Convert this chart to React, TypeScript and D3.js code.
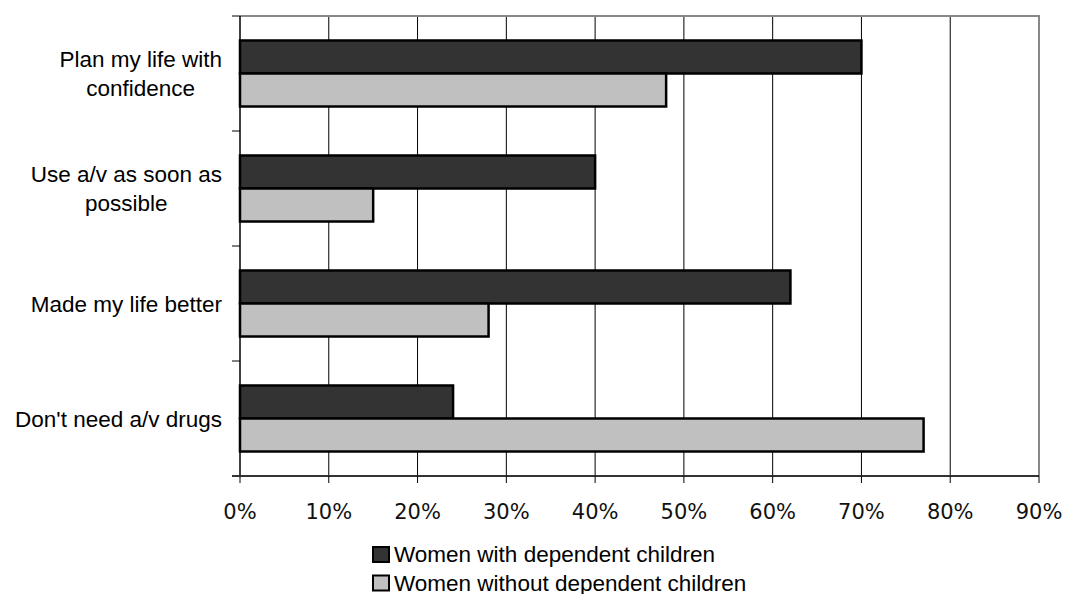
import React, { useEffect, useRef } from 'react';
import * as d3 from 'd3';

const categories = ['Plan my life with confidence', 'Use a/v as soon as possible', 'Made my life better', "Don't need a/v drugs"];
const categoryLines = [['Plan my life with', 'confidence'], ['Use a/v as soon as', 'possible'], ['Made my life better'], ["Don't need a/v drugs"]];
const seriesNames = ['Women with dependent children', 'Women without dependent children'];
const withChildren = [0.70, 0.40, 0.62, 0.24];
const withoutChildren = [0.48, 0.15, 0.28, 0.77];
const xTicks = [0, 0.1, 0.2, 0.3, 0.4, 0.5, 0.6, 0.7, 0.8, 0.9];
const colors = ['#333333', '#c0c0c0'];

const App = () => {
  const ref = useRef<SVGSVGElement>(null);

  useEffect(() => {
    const svg = d3.select(ref.current);
    svg.selectAll('*').remove();

    const left = 240, right = 1039, top = 16, bottom = 476;
    const labelFont = 'Liberation Sans, Arial, sans-serif';

    const x = d3.scaleLinear().domain([0, 0.9]).range([left, right]);
    const y = d3.scaleBand().domain(categories).range([top, bottom])
      .paddingInner(0.426).paddingOuter(0.213);
    const ySub = d3.scaleBand().domain(seriesNames).range([0, y.bandwidth()]);
    const values = [withChildren, withoutChildren];

    // gridlines
    svg.append('g').selectAll('line')
      .data(xTicks.slice(1, -1))
      .enter().append('line')
      .attr('x1', d => x(d)).attr('x2', d => x(d))
      .attr('y1', top).attr('y2', bottom)
      .attr('stroke', '#000').attr('stroke-width', 1);

    // top and right border
    svg.append('path')
      .attr('d', `M${left},${top}H${right}V${bottom}`)
      .attr('fill', 'none').attr('stroke', '#888').attr('stroke-width', 2);

    // bars
    seriesNames.forEach((s, si) => {
      svg.append('g').selectAll('rect')
        .data(categories)
        .enter().append('rect')
        .attr('x', x(0))
        .attr('y', d => (y(d) as number) + (ySub(s) as number))
        .attr('width', (d, i) => x(values[si][i]) - x(0))
        .attr('height', ySub.bandwidth())
        .attr('fill', colors[si])
        .attr('stroke', '#000')
        .attr('stroke-width', 2.5);
    });

    // left axis
    const leftTicks = [top, ...categories.map(c => (y(c) as number) - y.step() * 0.213 + y.step())];
    svg.append('line').attr('x1', left).attr('x2', left).attr('y1', top).attr('y2', bottom)
      .attr('stroke', '#000').attr('stroke-width', 1.5);
    svg.append('g').selectAll('line').data(leftTicks).enter().append('line')
      .attr('x1', left - 8).attr('x2', left).attr('y1', d => d).attr('y2', d => d)
      .attr('stroke', '#000').attr('stroke-width', 1);

    // bottom axis
    svg.append('line').attr('x1', left - 8).attr('x2', right).attr('y1', bottom).attr('y2', bottom)
      .attr('stroke', '#333').attr('stroke-width', 2);
    svg.append('g').selectAll('line').data(xTicks).enter().append('line')
      .attr('x1', d => x(d)).attr('x2', d => x(d)).attr('y1', bottom).attr('y2', bottom + 7)
      .attr('stroke', '#000').attr('stroke-width', 1);
    svg.append('g').selectAll('text').data(xTicks).enter().append('text')
      .attr('x', d => x(d)).attr('y', 519)
      .attr('text-anchor', 'middle')
      .style('font-family', 'DejaVu Sans, sans-serif')
      .style('font-size', '21px')
      .attr('fill', '#111')
      .text(d => `${Math.round(d * 100)}%`);

    // category labels
    categories.forEach((c, i) => {
      const lines = categoryLines[i];
      const cy = (y(c) as number) + y.bandwidth() / 2;
      const lh = 29.5;
      const t = svg.append('text')
        .attr('text-anchor', 'middle')
        .style('font-family', labelFont)
        .style('font-size', '22.5px')
        .attr('fill', '#000');
      lines.forEach((ln, li) => {
        t.append('tspan')
          .attr('y', cy + 8 + (li - (lines.length - 1) / 2) * lh)
          .text(ln);
      });
      let w = 0;
      t.selectAll<SVGTSpanElement, unknown>('tspan').each(function () {
        w = Math.max(w, this.getComputedTextLength());
      });
      t.selectAll('tspan').attr('x', 222 - w / 2);
    });

    // legend
    const legend = svg.append('g');
    seriesNames.forEach((s, i) => {
      const ly = 547 + i * 28.5;
      legend.append('rect')
        .attr('x', 373).attr('y', ly).attr('width', 16).attr('height', 15)
        .attr('fill', colors[i]).attr('stroke', '#000').attr('stroke-width', 2);
      legend.append('text')
        .attr('x', 394).attr('y', ly + 15)
        .style('font-family', labelFont)
        .style('font-size', '22.5px')
        .attr('fill', '#000')
        .text(s);
    });
  }, []);

  return <svg ref={ref} width={1068} height={594} style={{ position: 'absolute', left: 0, top: 0, background: '#fff' }}></svg>;
};

export default App;
